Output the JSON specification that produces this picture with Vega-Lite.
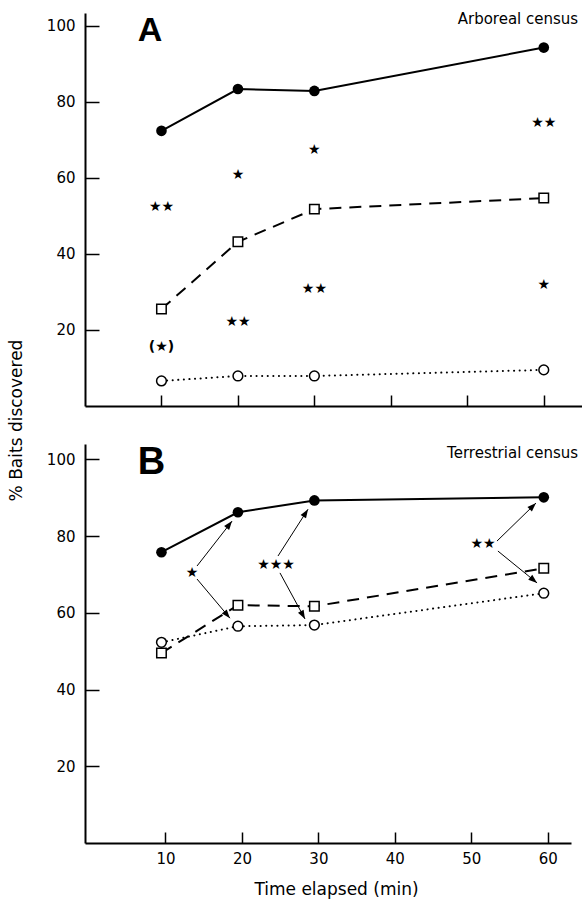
{
  "$schema": "https://vega.github.io/schema/vega-lite/v6.json",
  "background": "white",
  "padding": {"left": 7, "top": 12, "right": 0, "bottom": 2},
  "bounds": "flush",
  "spacing": 38,
  "config": {
    "view": {"stroke": null},
    "font": "DejaVu Sans",
    "axis": {
      "grid": false,
      "domainColor": "black",
      "domainWidth": 2,
      "tickColor": "black",
      "tickWidth": 1.5,
      "labelColor": "black",
      "labelFont": "DejaVu Sans",
      "labelFontSize": 15,
      "titleColor": "black",
      "titleFont": "DejaVu Sans",
      "titleFontWeight": "normal",
      "titleFontSize": 17
    }
  },
  "datasets": {
    "A": [
      {"t": 10, "pct": 72.4, "series": "filled"},
      {"t": 20, "pct": 83.4, "series": "filled"},
      {"t": 30, "pct": 82.9, "series": "filled"},
      {"t": 60, "pct": 94.3, "series": "filled"},
      {"t": 10, "pct": 25.5, "series": "square"},
      {"t": 20, "pct": 43.2, "series": "square"},
      {"t": 30, "pct": 51.8, "series": "square"},
      {"t": 60, "pct": 54.7, "series": "square"},
      {"t": 10, "pct": 6.6, "series": "open"},
      {"t": 20, "pct": 7.9, "series": "open"},
      {"t": 30, "pct": 7.9, "series": "open"},
      {"t": 60, "pct": 9.5, "series": "open"}
    ],
    "B": [
      {"t": 10, "pct": 75.8, "series": "filled"},
      {"t": 20, "pct": 86.2, "series": "filled"},
      {"t": 30, "pct": 89.3, "series": "filled"},
      {"t": 60, "pct": 90.1, "series": "filled"},
      {"t": 10, "pct": 49.5, "series": "square"},
      {"t": 20, "pct": 62.0, "series": "square"},
      {"t": 30, "pct": 61.7, "series": "square"},
      {"t": 60, "pct": 71.6, "series": "square"},
      {"t": 10, "pct": 52.3, "series": "open"},
      {"t": 20, "pct": 56.5, "series": "open"},
      {"t": 30, "pct": 56.8, "series": "open"},
      {"t": 60, "pct": 65.1, "series": "open"}
    ],
    "starsA": [
      {"t": 10, "pct": 52.4, "label": "★★"},
      {"t": 20, "pct": 60.8, "label": "★"},
      {"t": 20, "pct": 22.1, "label": "★★"},
      {"t": 10, "pct": 15.5, "label": "(★)"},
      {"t": 30, "pct": 67.4, "label": "★"},
      {"t": 30, "pct": 30.8, "label": "★★"},
      {"t": 60, "pct": 74.5, "label": "★★"},
      {"t": 60, "pct": 31.8, "label": "★"}
    ],
    "starsB": [
      {"t": 13.99, "pct": 70.4, "label": "★"},
      {"t": 24.98, "pct": 72.5, "label": "★★★"},
      {"t": 52.05, "pct": 77.9, "label": "★★"}
    ],
    "arrowsB": [
      {"t": 14.65, "pct": 72.2, "t2": 19.23, "pct2": 83.9, "angle": 37.9},
      {"t": 14.65, "pct": 68.8, "t2": 18.96, "pct2": 58.6, "angle": 139.8},
      {"t": 25.24, "pct": 74.8, "t2": 29.17, "pct2": 87.0, "angle": 32.5},
      {"t": 25.5, "pct": 70.4, "t2": 28.77, "pct2": 58.4, "angle": 151.5},
      {"t": 53.88, "pct": 78.7, "t2": 58.98, "pct2": 88.6, "angle": 45.7},
      {"t": 54.0, "pct": 76.1, "t2": 59.12, "pct2": 67.8, "angle": 129.4}
    ],
    "labelsA": [
      {"t": 6.9, "pct": 96.1, "label": "A", "kind": "panel"},
      {"t": 64.5, "pct": 100.5, "label": "Arboreal census", "kind": "census"}
    ],
    "labelsB": [
      {"t": 6.9, "pct": 96.1, "label": "B", "kind": "panel"},
      {"t": 64.5, "pct": 100.3, "label": "Terrestrial census", "kind": "census"}
    ]
  },
  "vconcat": [
    {
      "width": 497,
      "height": 393,
      "data": {"name": "A"},
      "encoding": {
        "x": {"field": "t", "type": "quantitative", "scale": {"domain": [0, 65], "nice": false},
              "axis": {"values": [10, 20, 30, 40, 50, 60], "labels": false, "tickSize": -11, "title": null}},
        "y": {"field": "pct", "type": "quantitative", "scale": {"domain": [0, 103.4], "nice": false},
              "axis": {"values": [20, 40, 60, 80, 100], "tickSize": -14, "labelPadding": 24,
                       "title": "% Baits discovered", "titleAngle": -90, "titleX": -60, "titleY": 407,
                       "titleAlign": "center", "titleBaseline": "bottom"}}
      },
      "layer": [
        {"transform": [{"filter": "datum.series === 'filled'"}], "mark": {"type": "line", "stroke": "black", "strokeWidth": 2}},
        {"transform": [{"filter": "datum.series === 'square'"}], "mark": {"type": "line", "stroke": "black", "strokeWidth": 2, "strokeDash": [12, 8]}},
        {"transform": [{"filter": "datum.series === 'open'"}], "mark": {"type": "line", "stroke": "black", "strokeWidth": 2, "strokeDash": [0.1, 5.5], "strokeCap": "round"}},
        {"transform": [{"filter": "datum.series === 'filled'"}], "mark": {"type": "point", "shape": "circle", "filled": true, "fill": "black", "size": 113, "opacity": 1}},
        {"transform": [{"filter": "datum.series === 'square'"}], "mark": {"type": "point", "shape": "square", "fill": "white", "stroke": "black", "strokeWidth": 1.5, "size": 90, "opacity": 1}},
        {"transform": [{"filter": "datum.series === 'open'"}], "mark": {"type": "point", "shape": "circle", "fill": "white", "stroke": "black", "strokeWidth": 1.5, "size": 95, "opacity": 1}},
        {"data": {"name": "starsA"}, "mark": {"type": "text", "font": "DejaVu Sans", "fontSize": 14, "fontWeight": "bold", "color": "black", "baseline": "middle", "align": "center"},
         "encoding": {"text": {"field": "label"}}},
        {"data": {"name": "labelsA"}, "transform": [{"filter": "datum.kind === 'panel'"}],
         "mark": {"type": "text", "font": "Liberation Sans", "fontSize": 34, "fontWeight": "bold", "color": "black", "align": "left", "baseline": "alphabetic"},
         "encoding": {"text": {"field": "label"}}},
        {"data": {"name": "labelsA"}, "transform": [{"filter": "datum.kind === 'census'"}],
         "mark": {"type": "text", "font": "DejaVu Sans", "fontSize": 15, "color": "black", "align": "right", "baseline": "alphabetic"},
         "encoding": {"text": {"field": "label"}}}
      ]
    },
    {
      "width": 486,
      "height": 399,
      "data": {"name": "B"},
      "encoding": {
        "x": {"field": "t", "type": "quantitative", "scale": {"domain": [0, 63.56], "nice": false},
              "axis": {"values": [10, 20, 30, 40, 50, 60], "tickSize": -11, "tickOffset": 4, "labelPadding": 19,
                       "title": "Time elapsed (min)", "titleX": 251, "titleY": 51, "titleBaseline": "alphabetic", "titleAlign": "center"}},
        "y": {"field": "pct", "type": "quantitative", "scale": {"domain": [0, 104], "nice": false},
              "axis": {"values": [20, 40, 60, 80, 100], "tickSize": -14, "labelPadding": 24, "title": null}}
      },
      "layer": [
        {"transform": [{"filter": "datum.series === 'filled'"}], "mark": {"type": "line", "stroke": "black", "strokeWidth": 2}},
        {"transform": [{"filter": "datum.series === 'square'"}], "mark": {"type": "line", "stroke": "black", "strokeWidth": 2, "strokeDash": [12, 8]}},
        {"transform": [{"filter": "datum.series === 'open'"}], "mark": {"type": "line", "stroke": "black", "strokeWidth": 2, "strokeDash": [0.1, 5.5], "strokeCap": "round"}},
        {"data": {"name": "arrowsB"}, "mark": {"type": "rule", "stroke": "black", "strokeWidth": 1},
         "encoding": {"x2": {"field": "t2"}, "y2": {"field": "pct2"}}},
        {"data": {"name": "arrowsB"}, "mark": {"type": "point", "shape": "M0,0L-0.8,2.2L0.8,2.2Z", "filled": true, "fill": "black", "size": 64, "opacity": 1, "strokeWidth": 0},
         "encoding": {"x": {"field": "t2", "type": "quantitative"}, "y": {"field": "pct2", "type": "quantitative"}, "angle": {"field": "angle", "type": "quantitative", "scale": null}}},
        {"transform": [{"filter": "datum.series === 'filled'"}], "mark": {"type": "point", "shape": "circle", "filled": true, "fill": "black", "size": 113, "opacity": 1}},
        {"transform": [{"filter": "datum.series === 'square'"}], "mark": {"type": "point", "shape": "square", "fill": "white", "stroke": "black", "strokeWidth": 1.5, "size": 90, "opacity": 1}},
        {"transform": [{"filter": "datum.series === 'open'"}], "mark": {"type": "point", "shape": "circle", "fill": "white", "stroke": "black", "strokeWidth": 1.5, "size": 95, "opacity": 1}},
        {"data": {"name": "starsB"}, "mark": {"type": "text", "font": "DejaVu Sans", "fontSize": 14, "fontWeight": "bold", "color": "black", "baseline": "middle", "align": "center"},
         "encoding": {"text": {"field": "label"}}},
        {"data": {"name": "labelsB"}, "transform": [{"filter": "datum.kind === 'panel'"}],
         "mark": {"type": "text", "font": "Liberation Sans", "fontSize": 38, "fontWeight": "bold", "color": "black", "align": "left", "baseline": "alphabetic"},
         "encoding": {"text": {"field": "label"}}},
        {"data": {"name": "labelsB"}, "transform": [{"filter": "datum.kind === 'census'"}],
         "mark": {"type": "text", "font": "DejaVu Sans", "fontSize": 15, "color": "black", "align": "right", "baseline": "alphabetic"},
         "encoding": {"text": {"field": "label"}}}
      ]
    }
  ]
}
